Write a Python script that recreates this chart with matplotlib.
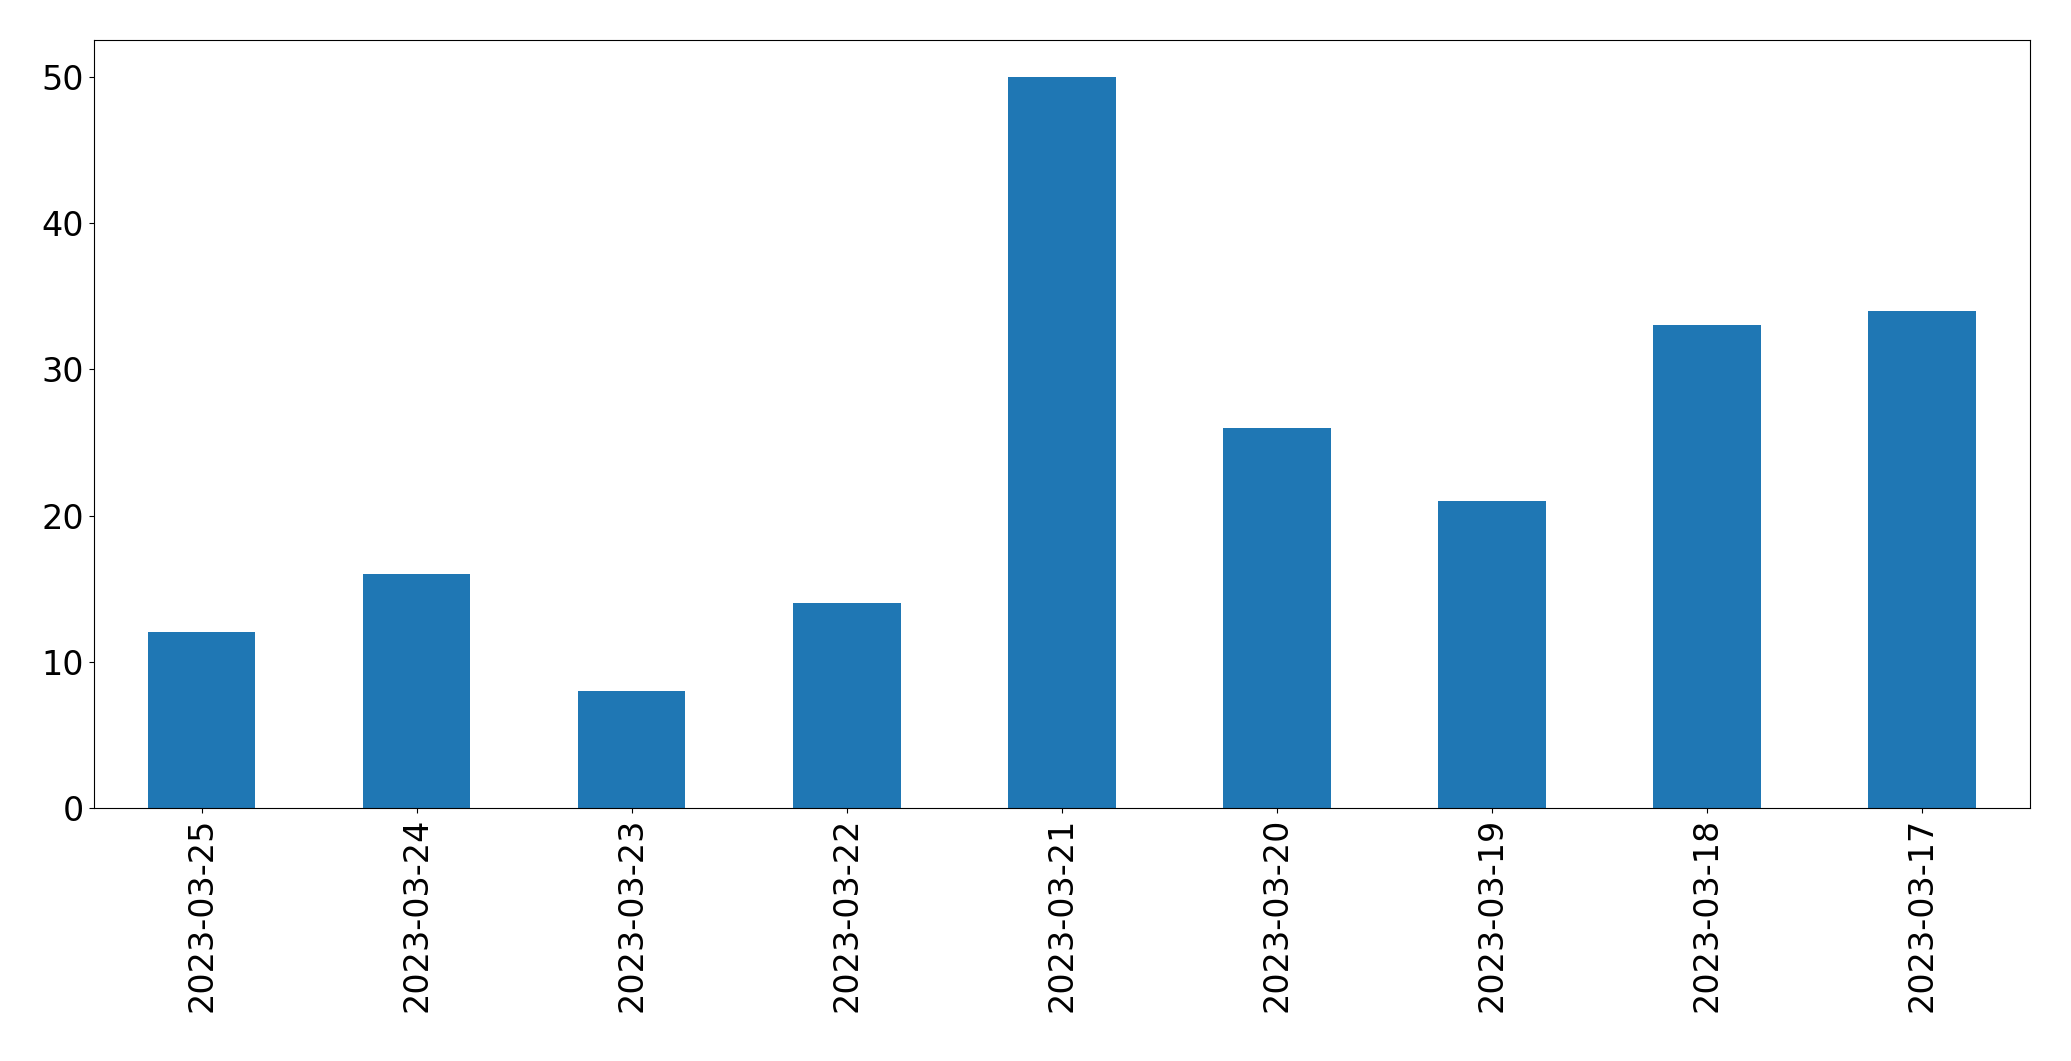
import matplotlib
matplotlib.use("Agg")
import matplotlib.pyplot as plt
import numpy as np

# 日別件数
dates = ["2023-03-25", "2023-03-24", "2023-03-23", "2023-03-22", "2023-03-21",
         "2023-03-20", "2023-03-19", "2023-03-18", "2023-03-17"]
counts = [12, 16, 8, 14, 50, 26, 21, 33, 34]

fig, ax = plt.subplots(figsize=(20.71, 10.61), dpi=100)
x = np.arange(len(dates))
ax.bar(x, counts, width=0.5, color="#1f77b4")
ax.set_xlim(-0.5, len(dates) - 0.5)
ax.set_ylim(0, max(counts) * 1.05)
ax.set_xticks(x)
ax.set_xticklabels(dates, rotation=90)
ax.tick_params(labelsize=24)

fig.subplots_adjust(left=0.0454, right=0.980, top=0.962, bottom=0.2385)
fig.savefig("out.png", dpi=100)
